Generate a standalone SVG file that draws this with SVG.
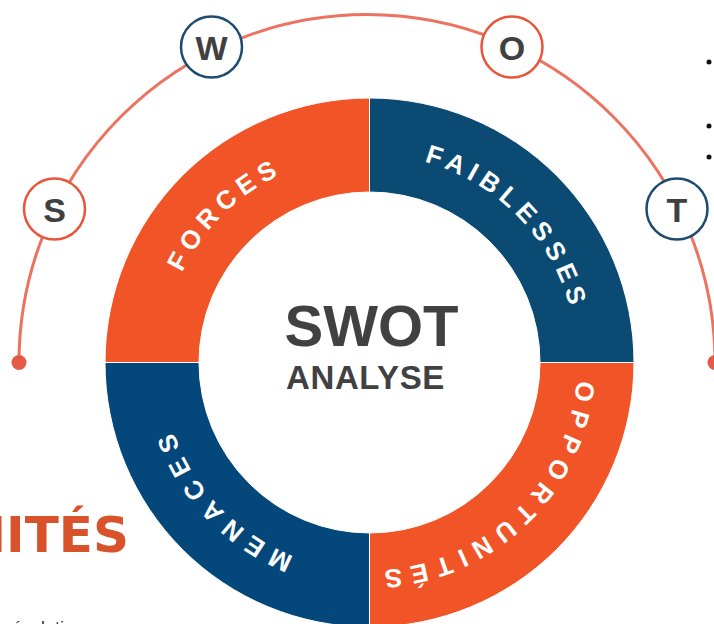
<svg xmlns="http://www.w3.org/2000/svg" xmlns:xlink="http://www.w3.org/1999/xlink" width="714" height="624" viewBox="0 0 714 624">
  <style>
    .seg { stroke: #ffffff; stroke-width: 1; }
    .orange { fill: #F15426; }
    .blue1 { fill: #0B4A73; }
    .blue2 { fill: #03477B; }
    .ring-label { font-family: "Liberation Sans", Arial, sans-serif; font-size: 26px; font-weight: 700; fill: #ffffff; }
    .badge { fill: #ffffff; stroke-width: 2.5; }
    .badge-o { stroke: #E8553B; }
    .badge-b { stroke: #1D4B70; }
    .badge-letter { font-family: "Liberation Sans", Arial, sans-serif; font-size: 34px; font-weight: 700; fill: #404041; text-anchor: middle; }
    .title { font-family: "Liberation Sans", Arial, sans-serif; font-weight: 700; fill: #414042; text-anchor: middle; }
    .arc { fill: none; stroke: #EC735F; stroke-width: 3; }
    .end-dot { fill: #E55A46; }
  </style>
  <defs>
    <!-- clockwise baseline circle for the ring labels, starting at 3 o'clock -->
    <path id="labelCircle" d="M577.5,362.5 A208,208 0 1 1 161.5,362.5 A208,208 0 1 1 577.5,362.5"/>
  </defs>

  <!-- outer arc with end dots -->
  <g id="connectors">
    <path class="arc" d="M19,362.5 A348,348 0 0 1 715,362.5"/>
    <circle class="end-dot" cx="19" cy="362.5" r="7.5"/>
    <circle class="end-dot" cx="715" cy="362.5" r="7.5"/>
  </g>

  <!-- ring quadrants -->
  <g id="forces">
    <path class="seg orange" d="M105,362.5 A264.5,264.5 0 0 1 369.5,98 L369.5,192 A170.5,170.5 0 0 0 199,362.5 Z"/>
    <text class="ring-label" letter-spacing="6.2"><textPath href="#labelCircle" startOffset="819" text-anchor="middle">FORCES</textPath></text>
  </g>
  <g id="faiblesses">
    <path class="seg blue1" d="M369.5,98 A264.5,264.5 0 0 1 634,362.5 L540,362.5 A170.5,170.5 0 0 0 369.5,192 Z"/>
    <text class="ring-label" letter-spacing="5.8"><textPath href="#labelCircle" startOffset="1145" text-anchor="middle">FAIBLESSES</textPath></text>
  </g>
  <g id="opportunites">
    <path class="seg orange" d="M634,362.5 A264.5,264.5 0 0 1 369.5,627 L369.5,533 A170.5,170.5 0 0 0 540,362.5 Z"/>
    <text class="ring-label" letter-spacing="8.1"><textPath href="#labelCircle" startOffset="169" text-anchor="middle">OPPORTUNITÉS</textPath></text>
  </g>
  <g id="menaces">
    <path class="seg blue2" d="M369.5,627 A264.5,264.5 0 0 1 105,362.5 L199,362.5 A170.5,170.5 0 0 0 369.5,533 Z"/>
    <text class="ring-label" letter-spacing="8"><textPath href="#labelCircle" startOffset="497" text-anchor="middle">MENACES</textPath></text>
  </g>

  <!-- centre title -->
  <g id="center">
    <text class="title" x="371.5" y="346" font-size="58">SWOT</text>
    <text class="title" x="365.5" y="389" font-size="33" letter-spacing="0.6">ANALYSE</text>
  </g>

  <!-- letter badges on the arc -->
  <g id="badge-s">
    <circle class="badge badge-o" cx="54.5" cy="209" r="30.5"/>
    <text class="badge-letter" x="54.5" y="221.5">S</text>
  </g>
  <g id="badge-w">
    <circle class="badge badge-b" cx="211.5" cy="47" r="30.5"/>
    <text class="badge-letter" x="211.5" y="59.5">W</text>
  </g>
  <g id="badge-o">
    <circle class="badge badge-o" cx="512" cy="47" r="30.5"/>
    <text class="badge-letter" x="512" y="59.5">O</text>
  </g>
  <g id="badge-t">
    <circle class="badge badge-b" cx="677" cy="209" r="30.5"/>
    <text class="badge-letter" x="677" y="221.5">T</text>
  </g>

  <!-- neighbouring page content cut by the frame -->
  <g id="edge-content">
    <text x="129" y="551.5" font-family="DejaVu Sans, sans-serif" font-weight="700" font-size="50" fill="#D8532C" text-anchor="end">NITÉS</text>
    <text x="12" y="634" font-family="Liberation Sans, Arial, sans-serif" font-size="18" fill="#333333">évolution</text>
    <circle cx="709" cy="62" r="2.5" fill="#111111"/>
    <circle cx="709" cy="126" r="2.5" fill="#111111"/>
    <circle cx="709" cy="157" r="2.5" fill="#111111"/>
  </g>
</svg>
